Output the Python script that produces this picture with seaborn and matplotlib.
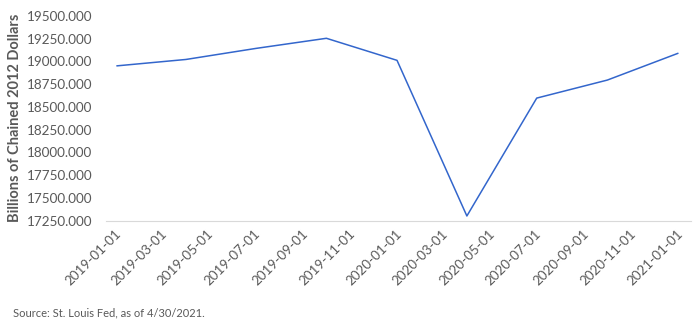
import matplotlib
matplotlib.use("Agg")
import matplotlib.pyplot as plt
import matplotlib.dates as mdates
import matplotlib.transforms as mtransforms
import pandas as pd
import seaborn as sns

# real GDP, quarterly
dates = ["2019-01-15", "2019-04-15", "2019-07-15", "2019-10-15", "2020-01-15",
         "2020-04-15", "2020-07-15", "2020-10-15", "2021-01-15"]
gdp = [18950.3, 19020.6, 19141.7, 19253.0, 19010.8, 17302.5, 18596.5, 18794.4, 19088.1]

df = pd.DataFrame({"date": pd.to_datetime(dates), "gdp": gdp})

sns.set_style("white")
plt.rcParams["font.family"] = ["Lato", "DejaVu Sans"]

grey = "#595959"
fig = plt.figure(figsize=(6.98, 3.36), dpi=100)
ax = fig.add_axes([0.152, 0.343, 0.838, 0.610])

sns.lineplot(data=df, x="date", y="gdp", ax=ax, color="#3366CC", linewidth=1.1)

ax.set_xlim(pd.Timestamp("2019-01-01"), pd.Timestamp("2021-02-01"))
ax.set_ylim(17250, 19500)
ax.set_yticks(range(17250, 19501, 250))
ax.yaxis.set_major_formatter(plt.FuncFormatter(lambda v, p: f"{v:.3f}"))
ax.xaxis.set_major_locator(mdates.MonthLocator(bymonth=[1, 3, 5, 7, 9, 11]))
ax.xaxis.set_major_formatter(mdates.DateFormatter("%Y-%m-%d"))

sns.despine(ax=ax, left=True)
ax.spines["bottom"].set_color("#D9D9D9")
ax.tick_params(axis="y", length=0, pad=10, labelsize=9.7, labelcolor=grey)
ax.tick_params(axis="x", length=3, color="#D9D9D9", pad=2, labelsize=9.7, labelcolor=grey)

offset = mtransforms.ScaledTranslation(9 / 100, 0, fig.dpi_scale_trans)
for lab in ax.get_xticklabels():
    lab.set_rotation(45)
    lab.set_ha("right")
    lab.set_va("top")
    lab.set_rotation_mode("anchor")
    lab.set_transform(lab.get_transform() + offset)

ax.set_xlabel("")
ax.set_ylabel("Billions of Chained 2012 Dollars", fontsize=10.5, fontweight="bold",
              color=grey)
ax.yaxis.set_label_coords(-0.1436, 0.5)

fig.text(13 / 698, 1 - 313 / 336, "Source: St. Louis Fed, as of 4/30/2021.",
         fontsize=8, color=grey, va="center", ha="left")

fig.savefig("out.png", dpi=100)
